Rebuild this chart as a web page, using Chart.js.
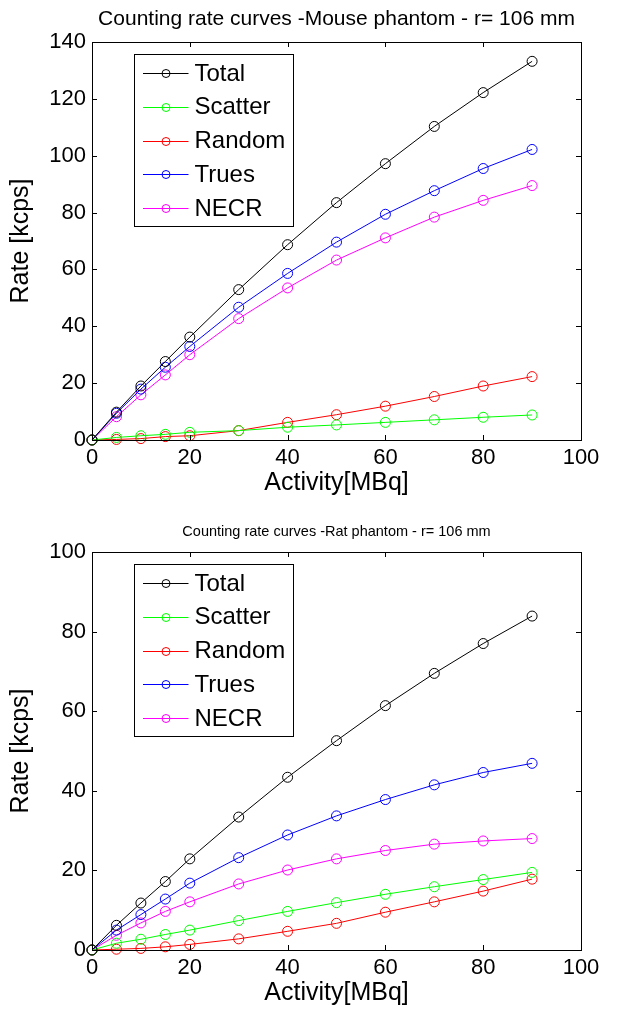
<!DOCTYPE html>
<html>
<head>
<meta charset="utf-8">
<script src="https://cdn.jsdelivr.net/npm/chart.js@4.4.1/dist/chart.umd.min.js"></script>
<style>
  html, body { margin: 0; padding: 0; background: #fff; }
  body { width: 633px; height: 1013px; position: relative; overflow: hidden; }
  canvas { position: absolute; left: 0; }
  #c1 { top: 0; }
  #c2 { top: 510px; }
</style>
</head>
<body>
<canvas id="c1" width="633" height="506"></canvas>
<canvas id="c2" width="633" height="503"></canvas>
<script>
// ---- data ----
const activity = [0, 5, 10, 15, 20, 30, 40, 50, 60, 70, 80, 90];
const seriesNames = ["Total", "Scatter", "Random", "Trues", "NECR"];
const seriesColors = ["#000000", "#00ff00", "#ff0000", "#0000ff", "#ff00ff"];

const mouseTotal   = [0, 9.8, 19.0, 27.6, 36.2, 52.9, 68.7, 83.5, 97.2, 110.3, 122.2, 133.2];
const mouseScatter = [0, 0.9, 1.5, 2.0, 2.7, 3.3, 4.5, 5.3, 6.2, 7.1, 8.0, 8.8];
const mouseRandom  = [0, 0.2, 0.5, 1.2, 1.5, 3.3, 6.2, 8.9, 11.9, 15.3, 19.0, 22.3];
const mouseTrues   = [0, 9.4, 17.9, 25.6, 32.9, 46.7, 58.6, 69.6, 79.4, 87.7, 95.5, 102.2];
const mouseNECR    = [0, 8.2, 15.9, 22.9, 30.0, 42.7, 53.5, 63.3, 71.1, 78.4, 84.3, 89.5];

const ratTotal   = [0, 6.2, 11.8, 17.2, 22.9, 33.4, 43.4, 52.6, 61.4, 69.5, 77.0, 83.9];
const ratScatter = [0, 1.7, 2.7, 3.9, 5.0, 7.4, 9.7, 11.9, 14.0, 15.9, 17.7, 19.5];
const ratRandom  = [0, 0.2, 0.4, 0.8, 1.4, 2.8, 4.7, 6.7, 9.5, 12.1, 14.8, 17.8];
const ratTrues   = [0, 5.0, 8.9, 12.8, 16.8, 23.2, 28.9, 33.7, 37.8, 41.5, 44.6, 46.9];
const ratNECR    = [0, 3.7, 6.8, 9.7, 12.1, 16.6, 20.1, 22.9, 25.0, 26.6, 27.4, 28.0];

const xTicks = [0, 20, 40, 60, 80, 100];
const mouseYTicks = [0, 20, 40, 60, 80, 100, 120, 140];
const ratYTicks = [0, 20, 40, 60, 80, 100];

const mouseTitle = "Counting rate curves -Mouse phantom - r= 106 mm";
const ratTitle = "Counting rate curves -Rat phantom - r= 106 mm";
const xTitle = "Activity[MBq]";
const yTitle = "Rate [kcps]";

// ---- helpers ----
const FONT = "'Liberation Sans', Arial, Helvetica, sans-serif";
Chart.defaults.font.family = FONT;
Chart.defaults.color = "#000";

function makeDatasets(arrs) {
  return arrs.map((arr, i) => ({
    label: seriesNames[i],
    data: activity.map((x, k) => ({ x: x, y: arr[k] })),
    borderColor: seriesColors[i],
    backgroundColor: "rgba(0,0,0,0)",
    borderWidth: 1,
    pointRadius: 5,
    pointHoverRadius: 5,
    pointBorderWidth: 1,
    pointBackgroundColor: "rgba(0,0,0,0)",
    pointBorderColor: seriesColors[i],
    pointStyle: "circle",
    tension: 0,
    clip: false
  }));
}

const framePlugin = {
  id: "matlabFrame",
  afterDraw(chart, args, opts) {
    const ctx = chart.ctx;
    const a = chart.chartArea;
    const xs = chart.scales.x, ys = chart.scales.y;
    ctx.save();
    ctx.strokeStyle = "#000";
    ctx.lineWidth = 1;
    ctx.strokeRect(Math.round(a.left) + 0.5, Math.round(a.top) + 0.5,
                   Math.round(a.right - a.left), Math.round(a.bottom - a.top));
    const tl = 5;
    ctx.beginPath();
    xs.ticks.forEach(t => {
      const px = Math.round(xs.getPixelForValue(t.value)) + 0.5;
      ctx.moveTo(px, a.bottom); ctx.lineTo(px, a.bottom - tl);
      ctx.moveTo(px, a.top); ctx.lineTo(px, a.top + tl);
    });
    ys.ticks.forEach(t => {
      const py = Math.round(ys.getPixelForValue(t.value)) + 0.5;
      ctx.moveTo(a.left, py); ctx.lineTo(a.left + tl, py);
      ctx.moveTo(a.right, py); ctx.lineTo(a.right - tl, py);
    });
    ctx.stroke();

    // chart title
    ctx.fillStyle = "#000";
    ctx.textAlign = "center";
    ctx.textBaseline = "alphabetic";
    ctx.font = opts.titleSize + "px " + FONT;
    ctx.fillText(opts.title, (a.left + a.right) / 2, opts.titleY);

    // legend box
    const bx = Math.round(a.left + 42) + 0.5, by = Math.round(a.top + 12) + 0.5;
    const bw = 159, bh = 172;
    ctx.fillStyle = "#fff";
    ctx.fillRect(bx, by, bw, bh);
    ctx.strokeStyle = "#000";
    ctx.strokeRect(bx, by, bw, bh);
    ctx.font = "24px " + FONT;
    ctx.textAlign = "left";
    ctx.textBaseline = "middle";
    chart.data.datasets.forEach((ds, i) => {
      const cy = by + 18.5 + i * 33.75;
      ctx.strokeStyle = ds.borderColor;
      ctx.lineWidth = 1;
      ctx.beginPath();
      ctx.moveTo(bx + 8.5, Math.round(cy) + 0.5);
      ctx.lineTo(bx + 54, Math.round(cy) + 0.5);
      ctx.stroke();
      ctx.beginPath();
      ctx.arc(bx + 31.5, Math.round(cy) + 0.5, 4, 0, Math.PI * 2);
      ctx.stroke();
      ctx.fillStyle = "#000";
      ctx.fillText(ds.label, bx + 60, cy + 1);
    });
    ctx.restore();
  }
};

function makeChart(id, H, datasets, yMax, yTickVals, title, titleSize, titleY) {
  const xTitleCenter = 483;
  return new Chart(document.getElementById(id), {
    type: "line",
    data: { datasets: datasets },
    options: {
      responsive: false,
      animation: false,
      devicePixelRatio: 1,
      events: [],
      layout: { padding: { top: 42, right: 52, left: 0, bottom: 0 } },
      plugins: {
        legend: { display: false },
        tooltip: { enabled: false },
        matlabFrame: { title: title, titleSize: titleSize, titleY: titleY }
      },
      scales: {
        x: {
          type: "linear",
          min: 0, max: 100,
          afterBuildTicks(s) { s.ticks = xTicks.map(v => ({ value: v })); },
          ticks: { color: "#000", font: { size: 22 }, padding: 5, maxRotation: 0, autoSkip: false },
          grid: { display: false, drawTicks: false },
          border: { display: false },
          title: { display: true, text: xTitle, color: "#000", font: { size: 25 },
                   padding: { top: 0, bottom: H - xTitleCenter - 15 } },
          afterFit(s) { s.height = H - 440; }
        },
        y: {
          type: "linear",
          min: 0, max: yMax,
          afterBuildTicks(s) { s.ticks = yTickVals.map(v => ({ value: v })); },
          ticks: { color: "#000", font: { size: 22 }, padding: 6, autoSkip: false },
          grid: { display: false, drawTicks: false },
          border: { display: false },
          title: { display: true, text: yTitle, color: "#000", font: { size: 25 },
                   padding: { top: 6, bottom: 0 } },
          afterFit(s) { s.width = 92; }
        }
      }
    },
    plugins: [framePlugin]
  });
}

makeChart("c1", 506,
  makeDatasets([mouseTotal, mouseScatter, mouseRandom, mouseTrues, mouseNECR]),
  140, mouseYTicks, mouseTitle, 21, 25);
makeChart("c2", 503,
  makeDatasets([ratTotal, ratScatter, ratRandom, ratTrues, ratNECR]),
  100, ratYTicks, ratTitle, 14.5, 26);
</script>
</body>
</html>
